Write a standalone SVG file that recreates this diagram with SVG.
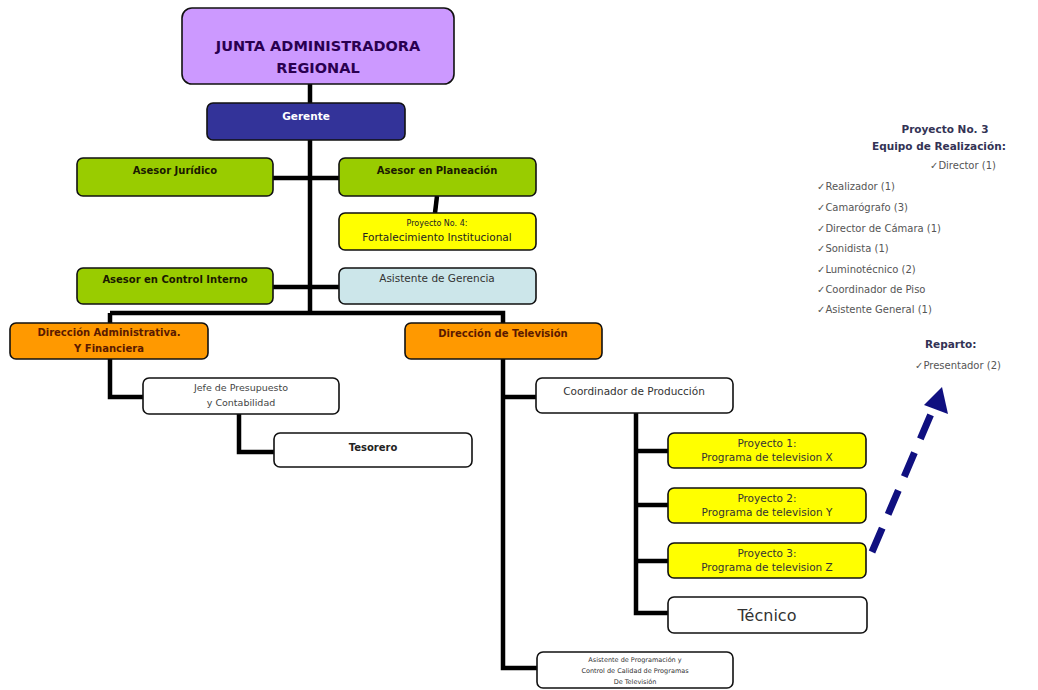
<svg xmlns="http://www.w3.org/2000/svg" width="1038" height="690" viewBox="0 0 1038 690">
<style>
.box{stroke:#111;stroke-width:1.6}
.t{font-family:"DejaVu Sans",Verdana,sans-serif;font-size:10.5px;text-anchor:middle}
.b{font-weight:bold;font-size:10px}
.c{fill:none;stroke:#000;stroke-width:4.5}
.r{font-family:"DejaVu Sans",Verdana,sans-serif;font-size:10px;fill:#555}
.rb{font-family:"DejaVu Sans",Verdana,sans-serif;font-size:10.5px;font-weight:bold;fill:#333355}
</style>
<rect width="1038" height="690" fill="#fff"/>
<g id="connectors">
<path class="c" d="M310 84V313M273 178H339M273 287H339M110 313H503V668H537M110 313V397H143M239 414V452H274M503 397H536M636 413V613H668M636 451H668M636 505H668M636 561H668"/>
<path d="M437 196L435 213" stroke="#000" stroke-width="4.5"/>
</g>
<g id="junta"><rect class="box" x="182" y="8" width="272" height="76" rx="10" fill="#cc99ff"/>
<text class="t" x="318" y="51" style="font-size:14.5px;font-weight:bold;fill:#2a0050">JUNTA ADMINISTRADORA</text>
<text class="t" x="318" y="73" style="font-size:14.5px;font-weight:bold;fill:#2a0050">REGIONAL</text></g>
<g id="gerente"><rect class="box" x="207" y="103" width="198" height="37" rx="6" fill="#333399"/>
<text class="t" x="306" y="120" style="fill:#fff;font-weight:bold">Gerente</text></g>
<g id="juridico"><rect class="box" x="77" y="158" width="196" height="38" rx="6" fill="#99cc00"/>
<text class="t b" x="175" y="174" fill="#1a1a00">Asesor Jurídico</text></g>
<g id="planeacion"><rect class="box" x="339" y="158" width="197" height="38" rx="6" fill="#99cc00"/>
<text class="t b" x="437" y="174" fill="#1a1a00">Asesor en Planeación</text></g>
<g id="proyecto4"><rect class="box" x="339" y="213" width="197" height="37" rx="6" fill="#ffff00"/>
<text class="t" x="437" y="226" style="font-size:8px" fill="#222">Proyecto No. 4:</text>
<text class="t" x="437" y="241" fill="#222">Fortalecimiento Institucional</text></g>
<g id="control"><rect class="box" x="77" y="268" width="196" height="36" rx="6" fill="#99cc00"/>
<text class="t b" x="175" y="283" fill="#1a1a00">Asesor en Control Interno</text></g>
<g id="asistente"><rect class="box" x="339" y="268" width="197" height="36" rx="6" fill="#cce6ea"/>
<text class="t" x="437" y="282" fill="#333">Asistente de Gerencia</text></g>
<g id="dir-adm"><rect class="box" x="10" y="323" width="198" height="36" rx="6" fill="#ff9900"/>
<text class="t b" x="109" y="336" fill="#5a1a00">Dirección Administrativa.</text>
<text class="t b" x="109" y="352" fill="#5a1a00">Y Financiera</text></g>
<g id="dir-tv"><rect class="box" x="405" y="323" width="197" height="36" rx="6" fill="#ff9900"/>
<text class="t b" x="503" y="337" fill="#5a1a00">Dirección de Televisión</text></g>
<g id="jefe"><rect class="box" x="143" y="378" width="196" height="36" rx="6" fill="#fff"/>
<text class="t" x="241" y="391" fill="#444" style="font-size:9.5px">Jefe de Presupuesto</text>
<text class="t" x="241" y="406" fill="#444" style="font-size:9.5px">y Contabilidad</text></g>
<g id="tesorero"><rect class="box" x="274" y="433" width="198" height="34" rx="6" fill="#fff"/>
<text class="t b" x="373" y="451" fill="#222">Tesorero</text></g>
<g id="coordinador"><rect class="box" x="536" y="378" width="197" height="35" rx="6" fill="#fff"/>
<text class="t" x="634" y="395" fill="#333">Coordinador de Producción</text></g>
<g id="p1"><rect class="box" x="668" y="433" width="198" height="35" rx="6" fill="#ffff00"/>
<text class="t" x="767" y="447" fill="#333">Proyecto 1:</text>
<text class="t" x="767" y="461" fill="#333">Programa de television X</text></g>
<g id="p2"><rect class="box" x="668" y="488" width="198" height="35" rx="6" fill="#ffff00"/>
<text class="t" x="767" y="502" fill="#333">Proyecto 2:</text>
<text class="t" x="767" y="516" fill="#333">Programa de television Y</text></g>
<g id="p3"><rect class="box" x="668" y="543" width="198" height="35" rx="6" fill="#ffff00"/>
<text class="t" x="767" y="557" fill="#333">Proyecto 3:</text>
<text class="t" x="767" y="571" fill="#333">Programa de television Z</text></g>
<g id="tecnico"><rect class="box" x="668" y="597" width="199" height="36" rx="6" fill="#fff"/>
<text class="t" x="767" y="621" style="font-size:16px" fill="#333">Técnico</text></g>
<g id="asist-prog"><rect class="box" x="537" y="652" width="196" height="36" rx="6" fill="#fff"/>
<text class="t" x="635" y="662" style="font-size:6.5px" fill="#333">Asistente de Programación y</text>
<text class="t" x="635" y="673" style="font-size:6.5px" fill="#333">Control de Calidad de Programas</text>
<text class="t" x="635" y="684" style="font-size:6.5px" fill="#333">De Televisión</text></g>
<g id="equipo">
<text class="rb" x="945" y="133" text-anchor="middle" fill="#444477">Proyecto No. 3</text>
<text class="rb" x="872" y="150">Equipo de Realización:</text>
<text class="r" x="930" y="169">✓Director (1)</text>
<text class="r" x="817" y="190">✓Realizador (1)</text>
<text class="r" x="817" y="211">✓Camarógrafo (3)</text>
<text class="r" x="817" y="232">✓Director de Cámara (1)</text>
<text class="r" x="817" y="252">✓Sonidista (1)</text>
<text class="r" x="817" y="273">✓Luminotécnico (2)</text>
<text class="r" x="817" y="293">✓Coordinador de Piso</text>
<text class="r" x="817" y="313">✓Asistente General (1)</text>
<text class="rb" x="925" y="348">Reparto:</text>
<text class="r" x="915" y="369">✓Presentador (2)</text>
</g>
<g id="arrow">
<path d="M872 552L934 407" stroke="#101080" stroke-width="7" stroke-dasharray="26 15" fill="none"/>
<polygon points="942,387 948,414 924,405" fill="#101080"/>
</g>
</svg>
